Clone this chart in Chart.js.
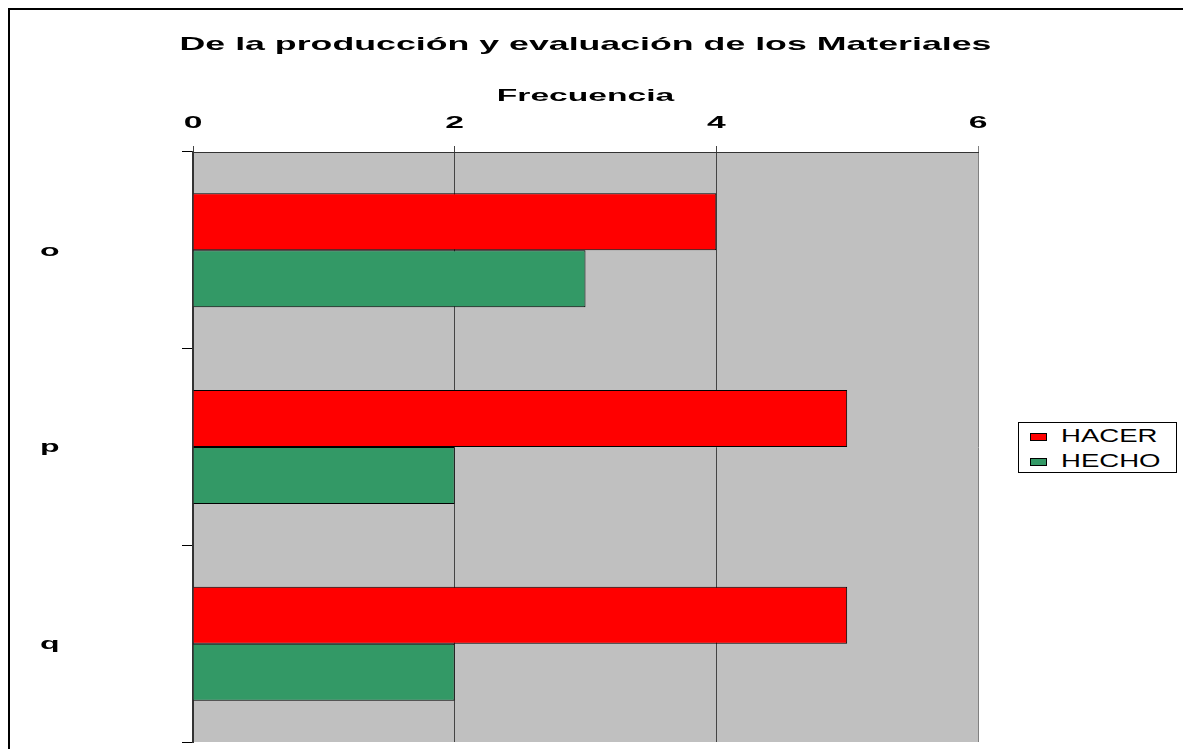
<!DOCTYPE html>
<html>
<head>
<meta charset="utf-8">
<script src="https://cdn.jsdelivr.net/npm/chart.js@4"></script>
<style>
  body { margin: 0; background: #fff; font-family: "Liberation Sans", Arial, sans-serif; }
  #wrap { position: relative; width: 1183px; height: 749px; overflow: hidden; }
  #frame { position: absolute; left: 8px; top: 8px; width: 1300px; height: 900px; border-left: 2px solid #000; border-top: 2px solid #000; }
  #canvas-chart { position: absolute; left: 0; top: 0; }
  #legend { position: absolute; left: 1018px; top: 422px; width: 157px; height: 49px; border: 1px solid #000; background: #fff; }
  .item { position: absolute; left: 11px; height: 20px; white-space: nowrap; }
  .sw { position: absolute; left: 0; top: 7px; width: 15px; height: 6px; border: 1px solid #000; }
  .txt { position: absolute; left: 31px; top: 0; font-size: 19px; line-height: 20px; color: #000; transform: scaleX(1.45); transform-origin: 0 50%; }
</style>
</head>
<body>
<div id="wrap">
  <div id="frame"></div>
  <canvas id="canvas-chart" width="1183" height="749"></canvas>
  <div id="legend"></div>
</div>
<script>
'use strict'

let categories = ["o", "p", "q"];
let hacer = [4, 5, 5];
let hecho = [3, 2, 2];
let xTicks = [0, 2, 4, 6];

let chartTitle = "De la producción y evaluación de los Materiales";
let xTitle = "Frecuencia";

let chart = document.getElementById("canvas-chart").getContext("2d");

let chartData = {
    labels: categories,
    datasets: [
        { label: "HACER", data: hacer, backgroundColor: "#FF0000" },
        { label: "HECHO", data: hecho, backgroundColor: "#339966" },
    ],
};

// the original text is bold Arial stretched sideways, so draw it scaled
function wideText(ctx, text, x, y, size, sx, align) {
    ctx.save();
    ctx.font = "bold " + size + "px 'Liberation Sans', Arial, sans-serif";
    ctx.fillStyle = "#000";
    ctx.textBaseline = "middle";
    ctx.textAlign = align;
    ctx.translate(x, y);
    ctx.scale(sx, 1);
    ctx.fillText(text, 0, 0);
    ctx.restore();
}

let plotBg = {
    id: "plotBg",
    beforeDraw(c) {
        let a = c.chartArea;
        let ctx = c.ctx;
        ctx.save();
        ctx.fillStyle = "#C0C0C0";
        ctx.fillRect(a.left, a.top, a.right - a.left, a.bottom - a.top);
        ctx.restore();
    },
};

let wideLabels = {
    id: "wideLabels",
    afterDraw(c) {
        let ctx = c.ctx;
        let xs = c.scales.x;
        let ys = c.scales.y;
        let mid = (xs.left + xs.right) / 2;
        wideText(ctx, chartTitle, mid, 45, 19, 1.88, "center");
        wideText(ctx, xTitle, mid, 97, 16, 2.1, "center");
        xTicks.forEach(function (v) {
            wideText(ctx, String(v), xs.getPixelForValue(v), 124, 16, 2.1, "center");
        });
        categories.forEach(function (cat, i) {
            wideText(ctx, cat, 40, ys.getPixelForValue(i) + 1, 16, 2.0, "left");
        });
    },
};

let noText = { color: "rgba(0,0,0,0)", font: { size: 1 } };

let chart1 = new Chart(chart, {
    type: "bar",
    data: chartData,
    plugins: [plotBg, wideLabels],
    options: {
        indexAxis: "y",
        responsive: false,
        animation: false,
        devicePixelRatio: 1,
        layout: { padding: { left: 40, right: 205, top: 132, bottom: 7 } },
        datasets: {
            bar: { categoryPercentage: 0.58, barPercentage: 1, borderWidth: 1, borderColor: "#000" },
        },
        plugins: {
            legend: { display: false },
            tooltip: { enabled: false },
            title: { display: false },
        },
        scales: {
            x: {
                position: "top",
                min: 0,
                max: 6,
                afterBuildTicks(s) { s.ticks = xTicks.map(v => ({ value: v })); },
                afterFit(s) { s.height = 20; },
                ticks: noText,
                grid: {
                    color: ctx => (ctx.tick && ctx.tick.value === 6 ? "#808080" : "#444"),
                    lineWidth: 1,
                    tickLength: 6,
                },
                border: { display: true, color: "#333", width: 1 },
            },
            y: {
                afterFit(s) { s.width = 153; },
                ticks: noText,
                grid: { offset: true, drawOnChartArea: false, color: "#000", tickLength: 11 },
                border: { display: true, color: "#333", width: 2 },
            },
        },
    },
});

let legend = document.getElementById("legend");
chartData.datasets.forEach(function (ds, i) {
    let item = document.createElement("div");
    item.className = "item";
    item.style.top = (3 + i * 25) + "px";
    item.innerHTML = '<span class="sw" style="background:' + ds.backgroundColor + '"></span><span class="txt">' + ds.label + '</span>';
    legend.appendChild(item);
});
</script>
</body>
</html>
